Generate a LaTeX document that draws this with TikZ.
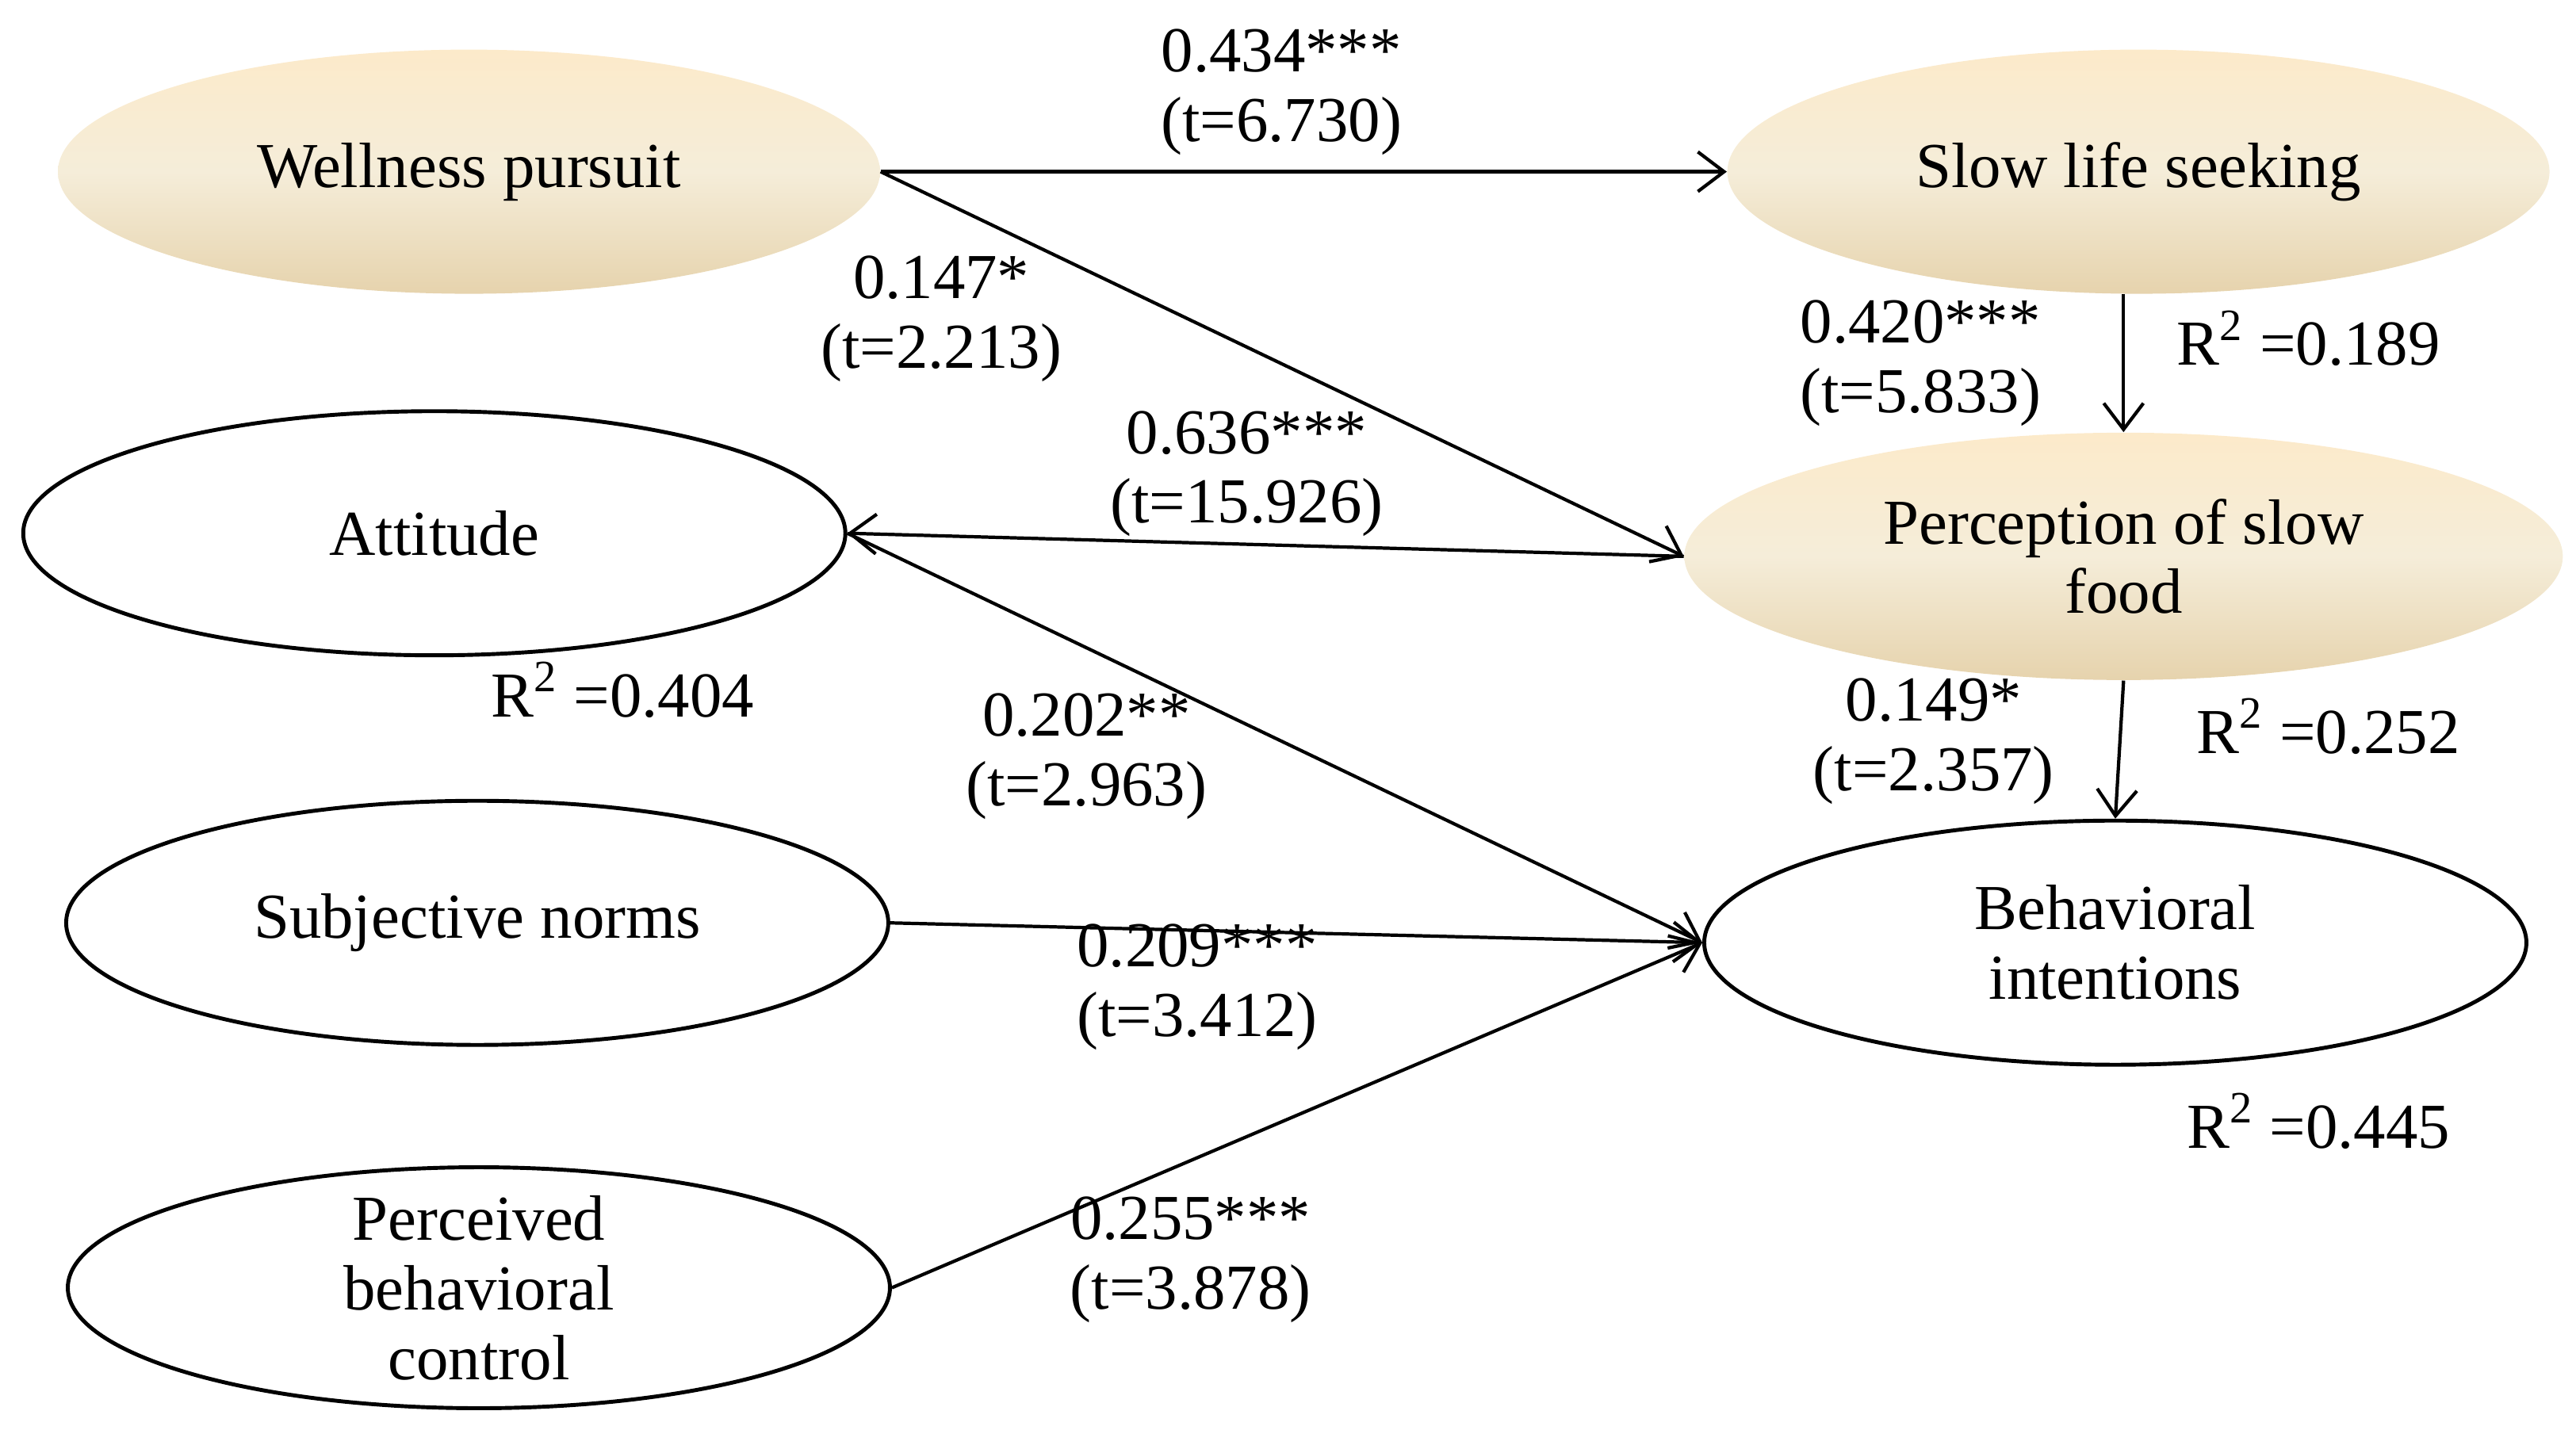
\documentclass[tikz,border=0pt]{standalone}
\usepackage{fontspec}
\setmainfont{Liberation Serif}
\usetikzlibrary{shapes.geometric,arrows.meta}
\definecolor{creamtop}{HTML}{FCEACA}
\definecolor{creammid}{HTML}{F5EDD9}
\definecolor{creambot}{HTML}{E6D3AD}
\begin{document}
\begin{tikzpicture}[x=0.020827cm,y=-0.020827cm,
  every node/.style={font=\fontsize{23}{25}\selectfont},
  ellbase/.style={ellipse, inner sep=0pt, minimum width=10.37cm, minimum height=3.08cm},
  plain/.style={ellbase, draw=black, line width=1.4pt, fill=white},
  cream/.style={ellbase, draw=none, top color=creamtop, bottom color=creambot, middle color=creammid},
  lbl/.style={align=center, inner sep=0pt},
  arr/.style={-{Straight Barb[length=0.33cm,width=0.5cm]}, line width=1.2pt}]
\useasboundingbox (0,0) rectangle (1560,866);
% ellipses
\node[cream] (wp) at (284,104) {};
\node[cream] (sl) at (1295,104) {};
\node[cream, minimum width=11.08cm, minimum height=3.12cm] (pf) at (1286,337) {};
\node[plain] (at) at (263,323) {};
\node[plain] (sn) at (289,559) {};
\node[plain, minimum height=3.04cm] (pbc) at (290,780) {};
\node[plain] (bi) at (1281,571) {};
% texts
\node[lbl] (wp-t) at (wp) {Wellness pursuit};
\node[lbl] (sl-t) at (sl) {Slow life seeking};
\node[lbl] (pf-t) at (pf) {Perception of slow\\food};
\node[lbl] (at-t) at (at) {Attitude};
\node[lbl] (sn-t) at (sn) {Subjective norms};
\node[lbl] (pbc-t) at (pbc) {Perceived\\behavioral\\control};
\node[lbl] (bi-t) at (bi) {Behavioral\\intentions};
% connectors
\draw[arr] (wp.east) -- (sl.west);
\draw[arr] (wp.east) -- (pf.west);
\draw[arr] (pf.west) -- (at.east);
\draw[arr] (sl.south -| pf.north) -- (pf.north);
\draw[arr] (pf.south) -- (bi.north);
\draw[arr] (at.east) -- (bi.west);
\draw[arr] (sn.east) -- (bi.west);
\draw[arr] (pbc.east) -- (bi.west);
% coefficient labels
\node[lbl] (c1) at (776,56) {0.434***\\(t=6.730)};
\node[lbl] (c2) at (570,193) {0.147*\\(t=2.213)};
\node[lbl] (c3) at (755,287) {0.636***\\(t=15.926)};
\node[lbl] (c4) at (1163,220) {0.420***\\(t=5.833)};
\node[lbl] (c5) at (1171,449) {0.149*\\(t=2.357)};
\node[lbl] (c6) at (658,458) {0.202**\\(t=2.963)};
\node[lbl] (c7) at (725,598) {0.209***\\(t=3.412)};
\node[lbl] (c8) at (721,763) {0.255***\\(t=3.878)};
% R squared
\node[lbl] (r1) at (1398,205) {R\textsuperscript{2} =0.189};
\node[lbl] (r2) at (1410,440) {R\textsuperscript{2} =0.252};
\node[lbl] (r3) at (377,418) {R\textsuperscript{2} =0.404};
\node[lbl] (r4) at (1404,679) {R\textsuperscript{2} =0.445};
\end{tikzpicture}
\end{document}
